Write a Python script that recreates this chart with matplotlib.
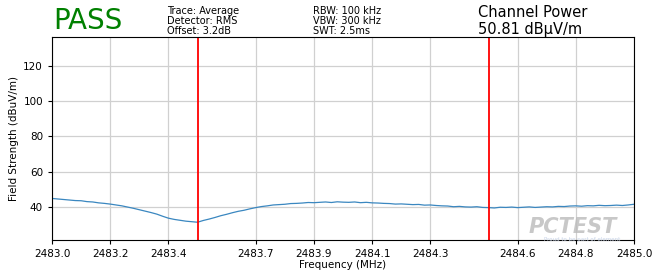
import matplotlib.pyplot as plt
import numpy as np

freq_start = 2483.0
freq_step = 0.02
level = [44.8, 44.5, 44.2, 43.9, 43.6, 43.5, 43.0, 42.8, 42.3, 42.0,
         41.6, 41.1, 40.6, 39.9, 39.2, 38.4, 37.6, 36.8, 35.9, 34.7,
         33.6, 32.9, 32.4, 31.9, 31.6, 31.3, 32.3, 33.1, 34.0, 35.0,
         35.8, 36.7, 37.5, 38.1, 38.9, 39.6, 40.2, 40.6, 41.1, 41.3,
         41.5, 41.9, 42.0, 42.2, 42.5, 42.4, 42.6, 42.8, 42.5, 42.9,
         42.7, 42.6, 42.8, 42.4, 42.6, 42.3, 42.2, 42.0, 41.9, 41.6,
         41.7, 41.5, 41.3, 41.4, 41.0, 41.1, 40.8, 40.6, 40.5, 40.1,
         40.3, 40.0, 39.9, 40.1, 39.7, 39.6, 39.4, 39.8, 39.7, 39.9,
         39.6, 39.8, 40.0, 39.7, 39.9, 40.1, 40.0, 40.3, 40.2, 40.5,
         40.6, 40.4, 40.7, 40.6, 40.9, 40.7, 40.8, 41.0, 40.8, 41.1,
         41.5]
freq = freq_start + freq_step * np.arange(len(level))

channel_edges = [2483.5, 2484.5]
xticks = [2483.0, 2483.2, 2483.4, 2483.7, 2483.9, 2484.1, 2484.3, 2484.6, 2484.8, 2485.0]
yticks = [40, 60, 80, 100, 120]
settings_left = ["Trace: Average", "Detector: RMS", "Offset: 3.2dB"]
settings_right = ["RBW: 100 kHz", "VBW: 300 kHz", "SWT: 2.5ms"]

fig = plt.figure(figsize=(6.52, 2.76), dpi=100)
ax = fig.add_axes([0.0798, 0.1304, 0.8926, 0.7356])

ax.plot(freq, level, color='#3a87c0', linewidth=0.9)
for edge in channel_edges:
    ax.axvline(edge, color='red', linewidth=1.3)

ax.set_xlim(2483.0, 2485.0)
ax.set_ylim(21.2, 136.5)
ax.set_xticks(xticks)
ax.set_xticklabels([f"{t:.1f}" for t in xticks])
ax.set_yticks(yticks)
ax.tick_params(labelsize=7.5, length=3)
ax.grid(True, color='#d0d0d0', linewidth=0.9)
ax.set_axisbelow(True)
ax.set_xlabel('Frequency (MHz)', fontsize=7.5, labelpad=1)
ax.set_ylabel('Field Strength (dBuV/m)', fontsize=7.5, labelpad=3)

# header texts
fig.text(0.081, 0.895, 'PASS', color='green', fontsize=20)
for i, s in enumerate(settings_left):
    fig.text(0.256, 0.95 - i * 0.036, s, fontsize=7, va='baseline')
for i, s in enumerate(settings_right):
    fig.text(0.48, 0.95 - i * 0.036, s, fontsize=7, va='baseline')
fig.text(0.733, 0.937, 'Channel Power', fontsize=10.5, va='baseline')
fig.text(0.733, 0.878, '50.81 dBµV/m', fontsize=10.5, va='baseline')

# watermark
fig.text(0.81, 0.155, 'PCTEST', color='#bbbbbb', fontsize=15, fontweight='bold',
         style='italic', alpha=0.8)
fig.text(0.835, 0.125, 'Proud to be part of element', color='#c8d4e8', fontsize=4)

fig.savefig('out.png', dpi=100)
